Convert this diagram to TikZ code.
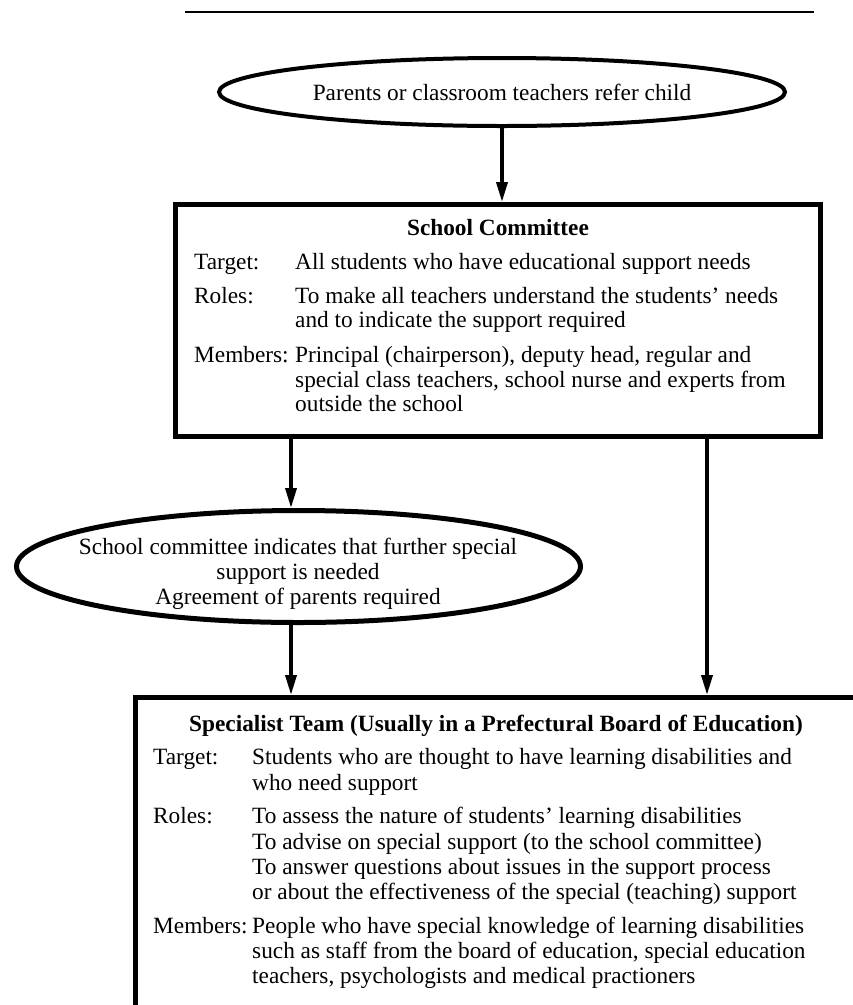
\documentclass[tikz,border=0pt]{standalone}
\usepackage{fontspec}
\setmainfont{Liberation Serif}
\usetikzlibrary{arrows.meta,shapes.geometric}
\begin{document}
\begin{tikzpicture}[x=1pt,y={(0pt,-1pt)},
  txt/.style={inner sep=0pt, anchor=base west, font=\fontsize{23.3}{25}\selectfont},
  ttl/.style={inner sep=0pt, anchor=base, font=\fontsize{23.3}{25}\selectfont\bfseries},
  oval/.style={ellipse, draw, inner sep=0pt},
  frame/.style={rectangle, draw, line width=5pt, inner sep=0pt},
  flow/.style={line width=3.5pt, -{Triangle[length=20pt,width=11pt]}},
]
\useasboundingbox (0,0) rectangle (853,1005);
% top rule
\coordinate (r1) at (185,12);
\coordinate (r2) at (814,12);
\draw[line width=2.5pt] (r1) -- (r2);

% first oval
\node[oval, line width=4pt, minimum width=566pt, minimum height=68pt,
      font=\fontsize{23.3}{25}\selectfont] (e1) at (502,92)
      {Parents or classroom teachers refer child};

% school committee box
\node[frame, minimum width=645pt, minimum height=232pt] (b1) at (498,320.5) {};
\node[ttl] (b1h) at (498,235) {School Committee};
\node[txt] (b1l1) at (194,269) {Target:};
\node[txt] (b1c1) at (295,269) {All students who have educational support needs};
\node[txt] (b1l2) at (194,303) {Roles:};
\node[txt] (b1c2) at (295,303) {To make all teachers understand the students’ needs};
\node[txt] (b1c3) at (295,327) {and to indicate the support required};
\node[txt] (b1l3) at (194,362) {Members:};
\node[txt] (b1c4) at (295,362) {Principal (chairperson), deputy head, regular and};
\node[txt] (b1c5) at (295,387) {special class teachers, school nurse and experts from};
\node[txt] (b1c6) at (295,411) {outside the school};

% second oval
\node[oval, line width=5pt, minimum width=564pt, minimum height=112pt] (e2) at (298.5,566.5) {};
\node[inner sep=0pt, align=center, font=\fontsize{23.3}{25}\selectfont] (e2t) at (298,574)
  {School committee indicates that further special\\support is needed\\Agreement of parents required};

% specialist team box (runs off the page)
\node[frame, minimum width=864.5pt, minimum height=402.5pt] (b2) at (567.75,898.75) {};
\node[ttl] (b2h) at (496,731) {Specialist Team (Usually in a Prefectural Board of Education)};
\node[txt] (b2l1) at (153,764) {Target:};
\node[txt] (b2c1) at (252,764) {Students who are thought to have learning disabilities and};
\node[txt] (b2c2) at (252,790) {who need support};
\node[txt] (b2l2) at (153,823) {Roles:};
\node[txt] (b2c3) at (252,823) {To assess the nature of students’ learning disabilities};
\node[txt] (b2c4) at (252,849) {To advise on special support (to the school committee)};
\node[txt] (b2c5) at (252,874) {To answer questions about issues in the support process};
\node[txt] (b2c6) at (252,899) {or about the effectiveness of the special (teaching) support};
\node[txt] (b2l3) at (153,933) {Members:};
\node[txt] (b2c7) at (252,933) {People who have special knowledge of learning disabilities};
\node[txt] (b2c8) at (252,958) {such as staff from the board of education, special education};
\node[txt] (b2c9) at (252,983) {teachers, psychologists and medical practioners};

% connectors
\coordinate (xa) at (291,0);
\coordinate (xb) at (707,0);
\draw[flow] (e1.south) -- (e1.south |- b1.north);
\draw[flow] (b1.south -| xa) -- (e2.north -| xa);
\draw[flow] (e2.south -| xa) -- (b2.north -| xa);
\draw[flow] (b1.south -| xb) -- (b2.north -| xb);
\end{tikzpicture}
\end{document}
